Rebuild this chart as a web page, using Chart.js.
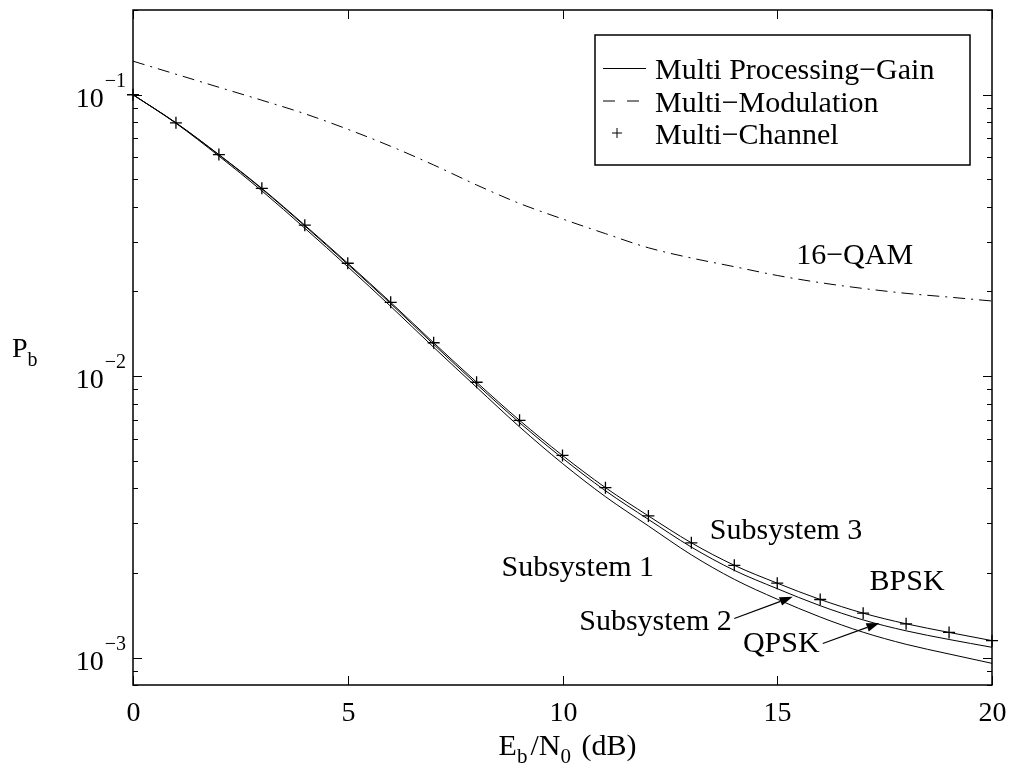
<!DOCTYPE html>
<html>
<head>
<meta charset="utf-8">
<script src="https://cdn.jsdelivr.net/npm/chart.js@4.4.1/dist/chart.umd.min.js"></script>
<style>
  html, body { margin: 0; padding: 0; background: #fff; }
  canvas { display: block; }
</style>
</head>
<body>
<canvas id="c" width="1011" height="767"></canvas>
<script>
// ---------- data ----------
const ebn0 = [0,1,2,3,4,5,6,7,8,9,10,11,12,13,14,15,16,17,18,19,20];

// Subsystem 3 / BPSK (upper solid curve)
const subsystem3 = [0.1,0.0795,0.0613,0.0465,0.0344,0.0252,0.0183,0.01315,0.00952,0.00697,0.00523,0.00402,0.00319,0.00256,0.00213,0.00184,0.00161,0.00144,0.00132,0.00123,0.00115];
// Subsystem 2 / QPSK (middle solid curve)
const subsystem2 = [0.1,0.0794,0.06115,0.04629,0.03418,0.02498,0.01811,0.01297,0.009365,0.006837,0.005115,0.003919,0.0031,0.002472,0.002044,0.001759,0.00153,0.001362,0.001246,0.001161,0.001089];
// Subsystem 1 (lower solid curve)
const subsystem1 = [0.1,0.07917,0.06055,0.04556,0.03356,0.02449,0.01771,0.01267,0.009137,0.006608,0.004898,0.003734,0.002939,0.00232,0.001899,0.001614,0.001395,0.001232,0.001116,0.001031,0.000955];
// Multi-Channel markers
const multiChannel = [0.1,0.0795,0.0613,0.0465,0.0344,0.0252,0.0183,0.01315,0.00952,0.00697,0.00523,0.00402,0.00319,0.00256,0.00213,0.00184,0.00161,0.00144,0.00132,0.00123,0.00115];
// 16-QAM (dash-dot curve)
const qam16 = [0.1316,0.1183,0.1063,0.0956,0.0856,0.0754,0.0656,0.0563,0.0478,0.0411,0.0362,0.0321,0.0286,0.0263,0.0245,0.0228,0.0215,0.0205,0.0197,0.0191,0.0185];

// ---------- axes ----------
const xTicks = [0,5,10,15,20];
const yMajorTicks = [1e-3,1e-2,1e-1];
const yMajorExp = ["−3","−2","−1"];
const yMinorTicks = [8e-4,9e-4,2e-3,3e-3,4e-3,5e-3,6e-3,7e-3,8e-3,9e-3,2e-2,3e-2,4e-2,5e-2,6e-2,7e-2,8e-2,9e-2,0.2];
const yMin = 8e-4, yMax = 0.2, xMin = 0, xMax = 20;

// ---------- legend and annotations ----------
const legendLabels = ["Multi Processing−Gain","Multi−Modulation","Multi−Channel"];
const annotations = [
  {text:"Subsystem 3", x:13.43, y:0.002634},
  {text:"Subsystem 1", x:8.58,  y:0.00195},
  {text:"BPSK",        x:17.15, y:0.001738},
  {text:"Subsystem 2", x:10.39, y:0.001252},
  {text:"QPSK",        x:14.2,  y:0.001048},
  {text:"16−QAM",      x:15.44, y:0.025}
];
const arrows = [
  {x0:14.0,  y0:0.001378, x1:15.36, y1:0.001645},
  {x0:16.06, y0:0.001123, x1:17.38, y1:0.001329}
];

const pts = arr => ebn0.map((v,i)=>({x:v, y:arr[i]}));
const SERIF = '"Liberation Serif", "Times New Roman", serif';

const lineDs = (label, arr, dash) => ({
  label, data: pts(arr), borderColor:'#000', borderWidth:1, pointRadius:0,
  borderDash: dash || [], fill:false, cubicInterpolationMode:'monotone'
});

const overlay = {
  id:'matlabAxes',
  afterDraw(chart){
    const {ctx, chartArea:a, scales:{x, y}} = chart;
    ctx.save();
    ctx.strokeStyle = '#000'; ctx.fillStyle = '#000';
    // axes box
    ctx.lineWidth = 1.5;
    ctx.strokeRect(a.left, a.top, a.right - a.left, a.bottom - a.top);
    ctx.lineWidth = 1;
    // x ticks (inward, bottom & top)
    ctx.font = '28px ' + SERIF;
    ctx.textAlign = 'center'; ctx.textBaseline = 'alphabetic';
    xTicks.forEach(v => {
      const px = Math.round(x.getPixelForValue(v)) + 0.5;
      ctx.beginPath();
      ctx.moveTo(px, a.bottom); ctx.lineTo(px, a.bottom - 9);
      ctx.moveTo(px, a.top); ctx.lineTo(px, a.top + 9);
      ctx.stroke();
      ctx.fillText(String(v), px, a.bottom + 36);
    });
    // y minor ticks
    yMinorTicks.forEach(v => {
      const py = Math.round(y.getPixelForValue(v)) + 0.5;
      ctx.beginPath();
      ctx.moveTo(a.left, py); ctx.lineTo(a.left + 5, py);
      ctx.moveTo(a.right, py); ctx.lineTo(a.right - 5, py);
      ctx.stroke();
    });
    // y major ticks + labels 10^n
    yMajorTicks.forEach((v, i) => {
      const py = Math.round(y.getPixelForValue(v)) + 0.5;
      ctx.beginPath();
      ctx.moveTo(a.left, py); ctx.lineTo(a.left + 9, py);
      ctx.moveTo(a.right, py); ctx.lineTo(a.right - 9, py);
      ctx.stroke();
      const rx = a.left - 7;
      ctx.textAlign = 'right';
      ctx.font = '20px ' + SERIF;
      const w = ctx.measureText(yMajorExp[i]).width;
      ctx.fillText(yMajorExp[i], rx, py - 9);
      ctx.font = '28px ' + SERIF;
      ctx.fillText('10', rx - w - 1, py + 11);
    });
    // y label P_b
    ctx.textAlign = 'left';
    ctx.font = '28px ' + SERIF;
    ctx.fillText('P', 12, 357);
    const pw = ctx.measureText('P').width;
    ctx.font = '20px ' + SERIF;
    ctx.fillText('b', 12 + pw, 366);
    // x label E_b /N_0 (dB)
    const segs = [
      {t:'E', f:30, dy:0, gap:0}, {t:'b', f:21, dy:8, gap:3}, {t:'/N', f:30, dy:0, gap:0},
      {t:'0', f:21, dy:8, gap:3}, {t:' (dB)', f:30, dy:0, gap:0}
    ];
    let tot = 0;
    segs.forEach(s => { ctx.font = s.f + 'px ' + SERIF; s.w = ctx.measureText(s.t).width + s.gap; tot += s.w; });
    let cx = (a.left + a.right) / 2 + 5 - tot / 2;
    segs.forEach(s => { ctx.font = s.f + 'px ' + SERIF; ctx.fillText(s.t, cx, 755 + s.dy); cx += s.w; });

    // annotations
    ctx.font = '30px ' + SERIF;
    ctx.textAlign = 'left';
    annotations.forEach(an => {
      ctx.fillText(an.text, x.getPixelForValue(an.x), y.getPixelForValue(an.y));
    });
    // arrows
    arrows.forEach(ar => {
      const x0 = x.getPixelForValue(ar.x0), y0 = y.getPixelForValue(ar.y0);
      const x1 = x.getPixelForValue(ar.x1), y1 = y.getPixelForValue(ar.y1);
      const ang = Math.atan2(y1 - y0, x1 - x0);
      const L = 13, W = 4.5;
      const bx = x1 - L * Math.cos(ang), by = y1 - L * Math.sin(ang);
      ctx.lineWidth = 1.2;
      ctx.beginPath(); ctx.moveTo(x0, y0); ctx.lineTo(bx, by); ctx.stroke();
      ctx.beginPath();
      ctx.moveTo(x1, y1);
      ctx.lineTo(bx + W * Math.sin(ang), by - W * Math.cos(ang));
      ctx.lineTo(bx - W * Math.sin(ang), by + W * Math.cos(ang));
      ctx.closePath(); ctx.fill();
    });

    // legend box
    const lx = a.right - 397, ly = a.top + 25, lw = 375, lh = 130;
    ctx.fillStyle = '#fff';
    ctx.fillRect(lx, ly, lw, lh);
    ctx.fillStyle = '#000';
    ctx.lineWidth = 1.5;
    ctx.strokeRect(lx, ly, lw, lh);
    ctx.lineWidth = 1;
    const rows = [ly + 33.5, ly + 66, ly + 98];
    // sample 1 solid
    ctx.beginPath(); ctx.moveTo(lx + 8, rows[0]); ctx.lineTo(lx + 51, rows[0]); ctx.stroke();
    // sample 2 dashed
    ctx.setLineDash([12, 12]);
    ctx.beginPath(); ctx.moveTo(lx + 8, rows[1]); ctx.lineTo(lx + 45, rows[1]); ctx.stroke();
    ctx.setLineDash([]);
    // sample 3 cross
    const cxp = lx + 22, cyp = rows[2];
    ctx.beginPath();
    ctx.moveTo(cxp - 5, cyp); ctx.lineTo(cxp + 5, cyp);
    ctx.moveTo(cxp, cyp - 5); ctx.lineTo(cxp, cyp + 5);
    ctx.stroke();
    ctx.font = '30px ' + SERIF;
    ctx.textAlign = 'left';
    legendLabels.forEach((t, i) => ctx.fillText(t, lx + 60, rows[i] + 10.5));
    ctx.restore();
  }
};

new Chart(document.getElementById('c'), {
  type: 'line',
  data: {
    datasets: [
      lineDs('Subsystem 1', subsystem1),
      lineDs('Subsystem 2 / QPSK', subsystem2),
      lineDs('Subsystem 3 / BPSK', subsystem3),
      lineDs('16-QAM', qam16, [12, 6, 2, 6]),
      { label:'Multi−Channel', data: pts(multiChannel), showLine:false,
        pointStyle:'cross', pointRadius:6, pointBorderWidth:1.3,
        borderColor:'#000', backgroundColor:'#000', clip:false }
    ]
  },
  options: {
    responsive: false,
    animation: false,
    devicePixelRatio: 1,
    layout: { padding: { left: 133, right: 19, top: 10, bottom: 82 } },
    plugins: { legend: { display: false }, tooltip: { enabled: false } },
    scales: {
      x: { type:'linear', min:xMin, max:xMax, display:false },
      y: { type:'logarithmic', min:yMin, max:yMax, display:false }
    }
  },
  plugins: [overlay]
});
</script>
</body>
</html>
